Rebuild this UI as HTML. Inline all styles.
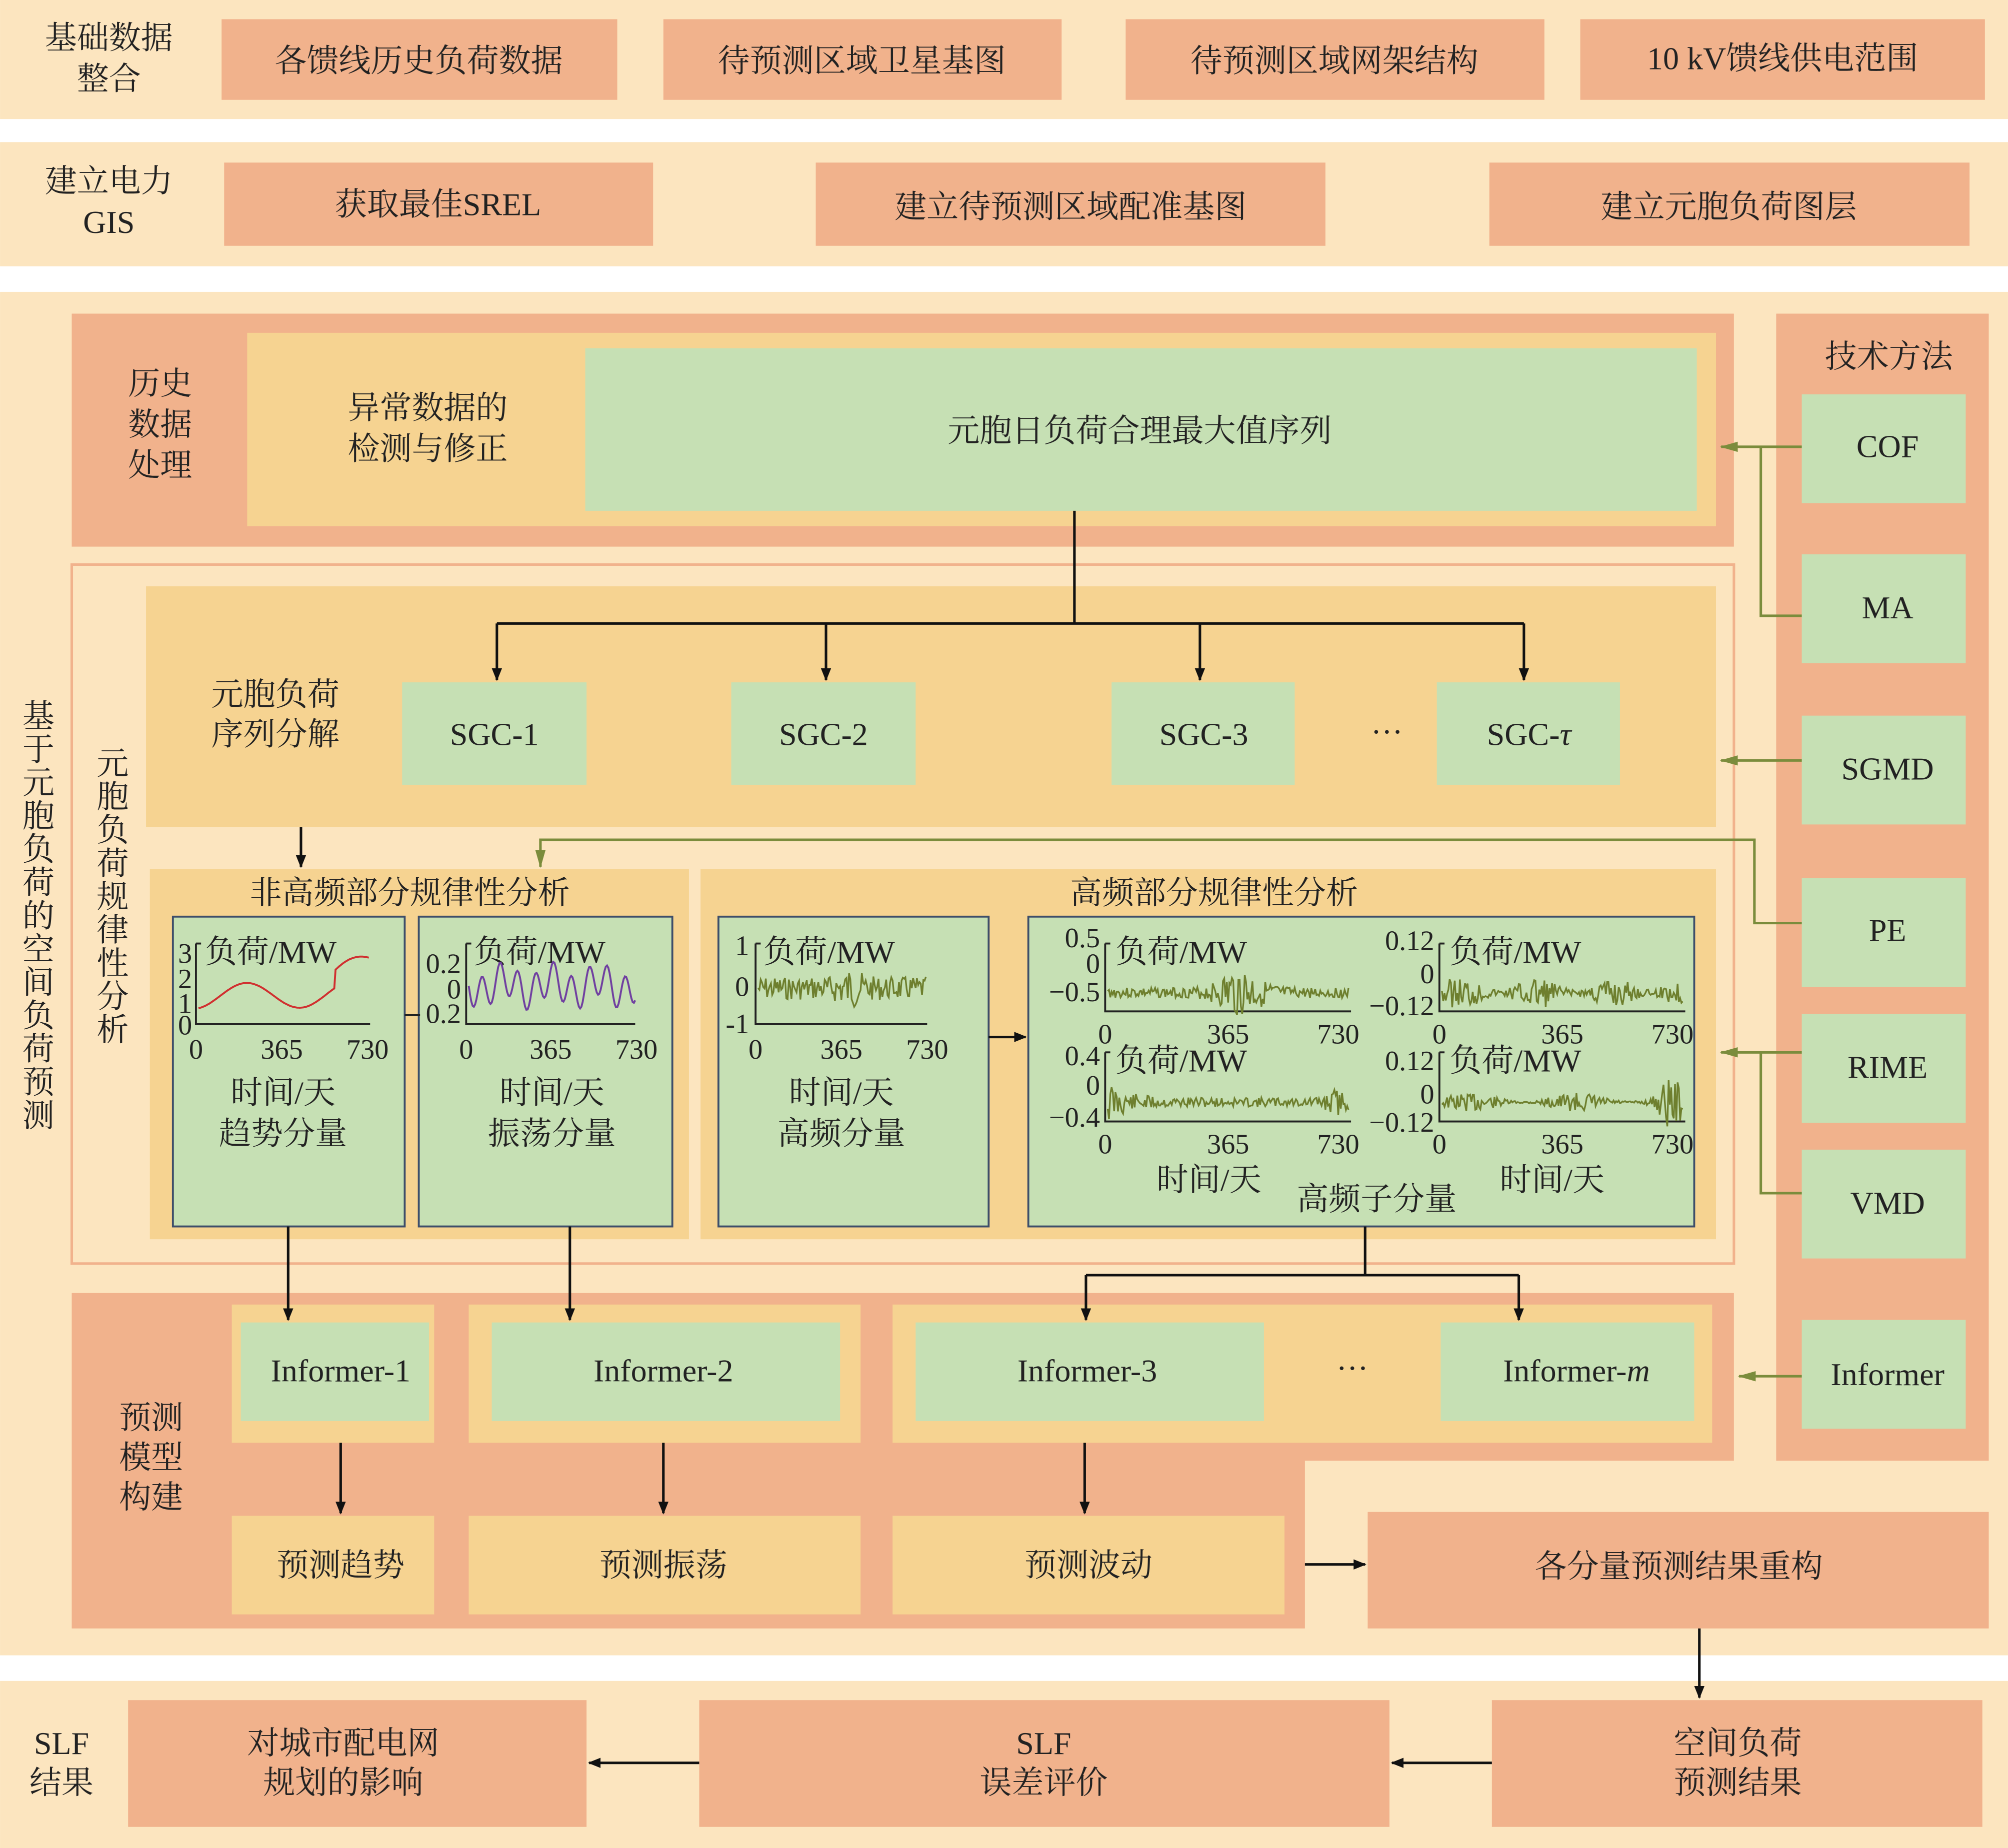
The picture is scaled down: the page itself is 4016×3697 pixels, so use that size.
<!DOCTYPE html>
<html><head><meta charset="utf-8">
<style>
html,body{margin:0;padding:0;background:#fff;}
svg{display:block;}
text{font-family:"Liberation Serif","Noto Serif CJK SC",serif;font-size:25px;fill:#222;}
.c{text-anchor:middle;}
.s{font-size:22px;}
</style></head><body>
<svg id="g" width="4016" height="3697" viewBox="0 0 1568 1443.5" xmlns="http://www.w3.org/2000/svg">
<defs>
<marker id="ab" markerWidth="10" markerHeight="10" refX="9" refY="5" orient="auto" markerUnits="userSpaceOnUse"><path d="M0,1 L10,5 L0,9 z" fill="#111"/></marker>
<marker id="ag" markerWidth="14" markerHeight="10" refX="13" refY="5" orient="auto" markerUnits="userSpaceOnUse"><path d="M0,1 L14,5 L0,9 z" fill="#7B8C3C"/></marker>
</defs>
<rect width="1568" height="1444" fill="#fff"/>
<!-- band1 -->
<rect x="0" y="0" width="1568" height="93" fill="#FCE5BF"/>
<text class="c" x="85" y="38">基础数据</text><text class="c" x="85" y="70">整合</text>
<g fill="#F1B28C">
<rect x="173" y="15" width="309" height="63"/><rect x="518" y="15" width="311" height="63"/>
<rect x="879" y="15" width="327" height="63"/><rect x="1234" y="15" width="316" height="63"/></g>
<text class="c" x="327" y="56">各馈线历史负荷数据</text><text class="c" x="673" y="56">待预测区域卫星基图</text>
<text class="c" x="1042" y="56">待预测区域网架结构</text><text class="c" x="1392" y="54">10 kV馈线供电范围</text>
<!-- band2 -->
<rect x="0" y="111" width="1568" height="97" fill="#FCE5BF"/>
<text class="c" x="85" y="150">建立电力</text><text class="c" x="85" y="182">GIS</text>
<g fill="#F1B28C"><rect x="175" y="127" width="335" height="65"/><rect x="637" y="127" width="398" height="65"/><rect x="1163" y="127" width="375" height="65"/></g>
<text class="c" x="342" y="168">获取最佳SREL</text><text class="c" x="836" y="170">建立待预测区域配准基图</text><text class="c" x="1350" y="170">建立元胞负荷图层</text>
<!-- band3 -->
<rect x="0" y="228" width="1568" height="1065" fill="#FCE5BF"/>
<rect x="56" y="245" width="1298" height="182" fill="#F1B28C"/>
<rect x="193" y="260" width="1147" height="151" fill="#F6D391"/>
<rect x="457" y="272" width="868" height="127" fill="#C6E0B4"/>
<text class="c" x="125" y="308">历史</text><text class="c" x="125" y="340">数据</text><text class="c" x="125" y="372">处理</text>
<text class="c" x="334" y="327">异常数据的</text><text class="c" x="334" y="359">检测与修正</text>
<text class="c" x="890" y="345">元胞日负荷合理最大值序列</text>
<!-- right column -->
<rect x="1387" y="245" width="166" height="896" fill="#F1B28C"/>
<text class="c" x="1475" y="287">技术方法</text>
<g fill="#C6E0B4">
<rect x="1407" y="308" width="128" height="85"/><rect x="1407" y="433" width="128" height="85"/>
<rect x="1407" y="559" width="128" height="85"/><rect x="1407" y="686" width="128" height="85"/>
<rect x="1407" y="792" width="128" height="85"/><rect x="1407" y="898" width="128" height="85"/>
<rect x="1407" y="1031" width="128" height="85"/></g>
<text class="c" x="1474" y="357">COF</text><text class="c" x="1474" y="483">MA</text><text class="c" x="1474" y="609">SGMD</text>
<text class="c" x="1474" y="735">PE</text><text class="c" x="1474" y="842">RIME</text><text class="c" x="1474" y="948">VMD</text>
<text class="c" x="1474" y="1082">Informer</text>
<!-- frame -->
<rect x="56" y="441" width="1298" height="546" fill="none" stroke="#F1B28C" stroke-width="2"/>
<rect x="114" y="458" width="1226" height="188" fill="#F6D391"/>
<text class="c" x="215" y="551">元胞负荷</text><text class="c" x="215" y="582">序列分解</text>
<g fill="#C6E0B4"><rect x="314" y="533" width="144" height="80"/><rect x="571" y="533" width="144" height="80"/>
<rect x="868" y="533" width="143" height="80"/><rect x="1122" y="533" width="143" height="80"/></g>
<text class="c" x="386" y="582">SGC-1</text><text class="c" x="643" y="582">SGC-2</text><text class="c" x="940" y="582">SGC-3</text>
<text class="c" x="1194" y="582">SGC-<tspan font-style="italic">τ</tspan></text><text class="c" x="1083" y="580">···</text>
<rect x="117" y="679" width="421" height="289" fill="#F6D391"/>
<rect x="547" y="679" width="793" height="289" fill="#F6D391"/>
<text class="c" x="320" y="706">非高频部分规律性分析</text><text class="c" x="948" y="706">高频部分规律性分析</text>
<g fill="#C6E0B4" stroke="#3E4E6A" stroke-width="1.5">
<rect x="135" y="716" width="181" height="242"/><rect x="327" y="716" width="198" height="242"/>
<rect x="561" y="716" width="211" height="242"/><rect x="803" y="716" width="520" height="242"/></g>
<g id="charts"></g>
<text class="c" x="221" y="862">时间/天</text><text class="c" x="221" y="894">趋势分量</text>
<text class="c" x="431" y="862">时间/天</text><text class="c" x="431" y="894">振荡分量</text>
<text class="c" x="657" y="862">时间/天</text><text class="c" x="657" y="894">高频分量</text>
<text class="c" x="944" y="930">时间/天</text><text class="c" x="1212" y="930">时间/天</text><text class="c" x="1075" y="945">高频子分量</text>
<!-- bottom salmon -->
<path d="M56,1010 H1354 V1141 H1019 V1272 H56 Z" fill="#F1B28C"/>
<g fill="#F6D391"><rect x="181" y="1019" width="158" height="108"/><rect x="366" y="1019" width="306" height="108"/><rect x="697" y="1019" width="640" height="108"/>
<rect x="181" y="1184" width="158" height="77"/><rect x="366" y="1184" width="306" height="77"/><rect x="697" y="1184" width="306" height="77"/></g>
<g fill="#C6E0B4"><rect x="188" y="1033" width="147" height="77"/><rect x="384" y="1033" width="272" height="77"/><rect x="715" y="1033" width="272" height="77"/><rect x="1125" y="1033" width="198" height="77"/></g>
<text class="c" x="266" y="1079">Informer-1</text><text class="c" x="518" y="1079">Informer-2</text><text class="c" x="849" y="1079">Informer-3</text>
<text class="c" x="1231" y="1079">Informer-<tspan font-style="italic">m</tspan></text><text class="c" x="1056" y="1077">···</text>
<text class="c" x="118" y="1116">预测</text><text class="c" x="118" y="1147">模型</text><text class="c" x="118" y="1178">构建</text>
<text class="c" x="266" y="1231">预测趋势</text><text class="c" x="518" y="1231">预测振荡</text><text class="c" x="850" y="1231">预测波动</text>
<rect x="1068" y="1181" width="485" height="91" fill="#F1B28C"/>
<text class="c" x="1311" y="1232">各分量预测结果重构</text>
<!-- band4 -->
<rect x="0" y="1313" width="1568" height="131" fill="#FCE5BF"/>
<text class="c" x="48" y="1370">SLF</text><text class="c" x="48" y="1401">结果</text>
<g fill="#F1B28C"><rect x="100" y="1328" width="358" height="99"/><rect x="546" y="1328" width="539" height="99"/><rect x="1165" y="1328" width="383" height="99"/></g>
<text class="c" x="268" y="1370">对城市配电网</text><text class="c" x="268" y="1401">规划的影响</text>
<text class="c" x="815" y="1370">SLF</text><text class="c" x="815" y="1401">误差评价</text>
<text class="c" x="1357" y="1370">空间负荷</text><text class="c" x="1357" y="1401">预测结果</text>
<!-- black connectors -->
<g stroke="#111" stroke-width="2" fill="none">
<path d="M839,399 V487 M388,487 H1190"/>
<path d="M388,487 V531" marker-end="url(#ab)"/><path d="M645,487 V531" marker-end="url(#ab)"/>
<path d="M937,487 V531" marker-end="url(#ab)"/><path d="M1190,487 V531" marker-end="url(#ab)"/>
<path d="M235,646 V677" marker-end="url(#ab)"/>
<path d="M225,958 V1031" marker-end="url(#ab)"/><path d="M445,958 V1031" marker-end="url(#ab)"/>
<path d="M772,810 H801" marker-end="url(#ab)"/>
<path d="M1066,958 V996 M848,996 H1186"/><path d="M848,996 V1031" marker-end="url(#ab)"/><path d="M1186,996 V1031" marker-end="url(#ab)"/>
<path d="M266,1127 V1182" marker-end="url(#ab)"/><path d="M518,1127 V1182" marker-end="url(#ab)"/><path d="M847,1127 V1182" marker-end="url(#ab)"/>
<path d="M1019,1222 H1066" marker-end="url(#ab)"/>
<path d="M1327,1272 V1326" marker-end="url(#ab)"/>
<path d="M1165,1377 H1087" marker-end="url(#ab)"/><path d="M546,1377 H460" marker-end="url(#ab)"/>
</g>
<!-- olive connectors -->
<g stroke="#7B8C3C" stroke-width="2" fill="none">
<path d="M1407,349 H1344" marker-end="url(#ag)"/><path d="M1375,349 V481 H1407"/>
<path d="M1407,594 H1344" marker-end="url(#ag)"/>
<path d="M1407,721 H1370 V656 H422 V677" marker-end="url(#ag)"/>
<path d="M1407,822 H1344" marker-end="url(#ag)"/><path d="M1375,822 V932 H1407"/>
<path d="M1407,1075 H1358" marker-end="url(#ag)"/>
</g>
</svg>
<script>
var NS="http://www.w3.org/2000/svg",svg=document.getElementById('g');
function el(t,a,txt,p){var e=document.createElementNS(NS,t);for(var k in a)e.setAttribute(k,a[k]);if(txt!=null)e.textContent=txt;(p||svg).appendChild(e);return e;}
function vt(s,x,y0,dy){for(var i=0;i<s.length;i++)el('text',{x:x,y:y0+i*dy,'class':'c'},s[i]);}
vt("基于元胞负荷的空间负荷预测",30,568,26);
vt("元胞负荷规律性分析",88,605,26);
var ch=document.getElementById('charts');
function axes(x0,y0,x1,y1,yl,xl){
 el('path',{d:'M'+x0+','+y0+' V'+y1+' H'+x1,stroke:'#222','stroke-width':1.5,fill:'none'},null,ch);
 el('path',{d:'M'+x0+','+y0+' h4',stroke:'#222','stroke-width':1.5},null,ch);
 yl.forEach(function(l){el('text',{x:l[0],y:l[1],'text-anchor':'end','class':'s'},l[2],ch);});
 xl.forEach(function(l){el('text',{x:l[0],y:l[1],'class':'c s'},l[2],ch);});
}
function wave(x0,x1,yc,f,col,w){var p=[];for(var x=x0;x<=x1;x+=1){p.push(x+','+(yc+f(x-x0,(x-x0)/(x1-x0))).toFixed(1));}el('polyline',{points:p.join(' '),fill:'none',stroke:col,'stroke-width':w||1.5},null,ch);}
function rnd(seed){return function(){seed=(seed*9301+49297)%233280;return seed/233280-0.5;};}
axes(153,737,289,800,[[150,752,'3'],[150,772,'2'],[150,791,'1'],[150,808,'0']],[[153,827,'0'],[220,827,'365'],[287,827,'730']]);
el('text',{x:160,y:752},'负荷/MW',ch);
wave(155,288,778,function(t,u){return 10*Math.cos(u*Math.PI*3.2+0.3)-8*u*u*(u>0.8?3:0.3);},'#D03030');
axes(364,737,496,800,[[360,760,'0.2'],[360,780,'0'],[360,799,'0.2']],[[364,827,'0'],[430,827,'365'],[497,827,'730']]);
el('text',{x:370,y:752},'负荷/MW',ch);
wave(366,496,770,function(t,u){return 13*Math.sin(t*0.45)+6*Math.sin(t*0.17);},'#7040A0');
el('path',{d:'M316,793 h12',stroke:'#222','stroke-width':1.5},null,ch);
axes(590,737,724,800,[[585,746,'1'],[585,778,'0'],[585,807,'-1']],[[590,827,'0'],[657,827,'365'],[724,827,'730']]);
el('text',{x:596,y:752},'负荷/MW',ch);
var r=rnd(7);wave(592,723,772,function(t,u){return r()*(18+14*Math.exp(-Math.pow((u-0.55)/0.08,2)));},'#6E7F2E',1.3);
function sub(x0,y0,x1,y1,yl,seed,amp,env){
 axes(x0,y0,x1,y1,yl,[[x0,y1+25,'0'],[(x0+x1)/2,y1+25,'365'],[x1-10,y1+25,'730']]);
 el('text',{x:x0+8,y:y0+15},'负荷/MW',ch);
 var r=rnd(seed);wave(x0+2,x1-2,(y0+y1)/2+12,function(t,u){return r()*amp*env(u);},'#6E7F2E',1.3);
}
sub(863,737,1055,790,[[859,740,'0.5'],[859,760,'0'],[859,782,'−0.5']],3,16,function(u){return 0.5+2*Math.exp(-Math.pow((u-0.55)/0.1,2));});
sub(1124,737,1316,790,[[1120,742,'0.12'],[1120,768,'0'],[1120,793,'−0.12']],5,26,function(u){return 0.6+0.4*Math.sin(u*20);});
sub(863,822,1055,876,[[859,832,'0.4'],[859,855,'0'],[859,880,'−0.4']],11,18,function(u){return 0.4+1.5*Math.exp(-u*12)+0.8*Math.exp(-Math.pow((u-0.95)/0.05,2));});
sub(1124,822,1316,876,[[1120,836,'0.12'],[1120,862,'0'],[1120,884,'−0.12']],13,16,function(u){return 0.5+0.4*Math.sin(u*14)+1.8*Math.exp(-Math.pow((u-0.95)/0.05,2));});
</script>
</body></html>
